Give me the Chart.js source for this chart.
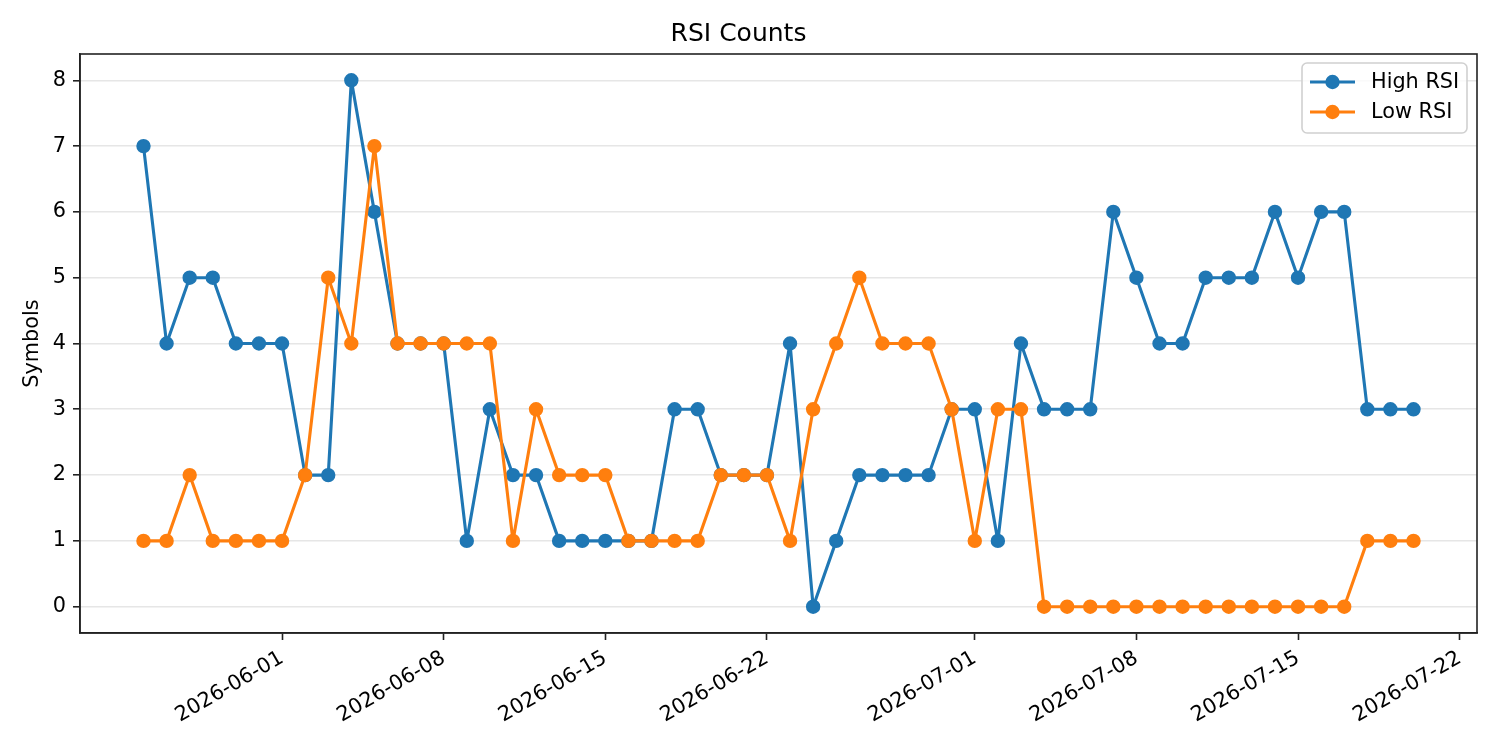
<!DOCTYPE html>
<html>
<head>
<meta charset="utf-8">
<script src="https://cdn.jsdelivr.net/npm/chart.js@4.4.1/dist/chart.umd.min.js"></script>
<style>
  html, body { margin: 0; padding: 0; background: #fff; }
  canvas { display: block; }
</style>
</head>
<body>
<canvas id="rsiChart" width="1500" height="750"></canvas>
<script>
// dates (one point per day)
const dates = [
    '2026-05-26', '2026-05-27', '2026-05-28', '2026-05-29', '2026-05-30', '2026-05-31',
    '2026-06-01', '2026-06-02', '2026-06-03', '2026-06-04', '2026-06-05', '2026-06-06',
    '2026-06-07', '2026-06-08', '2026-06-09', '2026-06-10', '2026-06-11', '2026-06-12',
    '2026-06-13', '2026-06-14', '2026-06-15', '2026-06-16', '2026-06-17', '2026-06-18',
    '2026-06-19', '2026-06-20', '2026-06-21', '2026-06-22', '2026-06-23', '2026-06-24',
    '2026-06-25', '2026-06-26', '2026-06-27', '2026-06-28', '2026-06-29', '2026-06-30',
    '2026-07-01', '2026-07-02', '2026-07-03', '2026-07-04', '2026-07-05', '2026-07-06',
    '2026-07-07', '2026-07-08', '2026-07-09', '2026-07-10', '2026-07-11', '2026-07-12',
    '2026-07-13', '2026-07-14', '2026-07-15', '2026-07-16', '2026-07-17', '2026-07-18',
    '2026-07-19', '2026-07-20'
];

const highRsi = [
    7, 4, 5, 5, 4, 4,
    4, 2, 2, 8, 6, 4,
    4, 4, 1, 3, 2, 2,
    1, 1, 1, 1, 1, 3,
    3, 2, 2, 2, 4, 0,
    1, 2, 2, 2, 2, 3,
    3, 1, 4, 3, 3, 3,
    6, 5, 4, 4, 5, 5,
    5, 6, 5, 6, 6, 3,
    3, 3
];

const lowRsi = [
    1, 1, 2, 1, 1, 1,
    1, 2, 5, 4, 7, 4,
    4, 4, 4, 4, 1, 3,
    2, 2, 2, 1, 1, 1,
    1, 2, 2, 2, 1, 3,
    4, 5, 4, 4, 4, 3,
    1, 3, 3, 0, 0, 0,
    0, 0, 0, 0, 0, 0,
    0, 0, 0, 0, 0, 1,
    1, 1
];

const xTickLabels = ['2026-06-01', '2026-06-08', '2026-06-15', '2026-06-22', '2026-07-01', '2026-07-08', '2026-07-15', '2026-07-22'];
const yTickValues = [0, 1, 2, 3, 4, 5, 6, 7, 8];

const BLUE = '#1f77b4';
const ORANGE = '#ff7f0e';
const FONT = "'DejaVu Sans', sans-serif";
const INK = '#222';

function dayNum(s) {
    return Date.parse(s + 'T00:00:00Z') / 86400000;
}

const xs = dates.map(dayNum);
const xSpan = xs[xs.length - 1] - xs[0];
const xMin = xs[0] - xSpan * 0.05;
const xMax = xs[xs.length - 1] + xSpan * 0.05;

// top/right spines
const framePlugin = {
    id: 'frame',
    afterDraw(chart) {
        const { ctx, chartArea: a } = chart;
        ctx.save();
        ctx.strokeStyle = INK;
        ctx.lineWidth = 1.6;
        ctx.strokeRect(a.left, a.top, a.right - a.left, a.bottom - a.top);
        ctx.restore();
    }
};

// matplotlib style legend box (line + marker)
const legendPlugin = {
    id: 'mplLegend',
    afterDraw(chart) {
        const ctx = chart.ctx;
        const x0 = 1302, y0 = 63, w = 165, h = 70, r = 5;
        ctx.save();
        ctx.beginPath();
        ctx.roundRect(x0, y0, w, h, r);
        ctx.fillStyle = 'rgba(255,255,255,0.8)';
        ctx.fill();
        ctx.strokeStyle = '#d0d0d0';
        ctx.lineWidth = 1.6;
        ctx.stroke();

        const rows = [
            { label: 'High RSI', color: BLUE, y: 82 },
            { label: 'Low RSI', color: ORANGE, y: 112 }
        ];
        rows.forEach(row => {
            ctx.strokeStyle = row.color;
            ctx.lineWidth = 3.1;
            ctx.beginPath();
            ctx.moveTo(1310, row.y);
            ctx.lineTo(1355, row.y);
            ctx.stroke();
            ctx.beginPath();
            ctx.arc(1332.5, row.y, 7.2, 0, Math.PI * 2);
            ctx.fillStyle = row.color;
            ctx.fill();
            ctx.fillStyle = '#000';
            ctx.font = '20.8px ' + FONT;
            ctx.textAlign = 'left';
            ctx.textBaseline = 'middle';
            ctx.fillText(row.label, 1371, row.y + 1);
        });
        ctx.restore();
    }
};

const ctx = document.getElementById('rsiChart').getContext('2d');
const rsiChart = new Chart(ctx, {
    type: 'line',
    data: {
        datasets: [
            {
                label: 'High RSI',
                data: dates.map((d, i) => ({ x: xs[i], y: highRsi[i] })),
                borderColor: BLUE,
                backgroundColor: BLUE,
                borderWidth: 3.1,
                borderJoinStyle: 'round',
                pointRadius: 6.2,
                pointBorderWidth: 2,
                pointBackgroundColor: BLUE,
                pointBorderColor: BLUE,
                tension: 0,
                order: 2
            },
            {
                label: 'Low RSI',
                data: dates.map((d, i) => ({ x: xs[i], y: lowRsi[i] })),
                borderColor: ORANGE,
                backgroundColor: ORANGE,
                borderWidth: 3.1,
                borderJoinStyle: 'round',
                pointRadius: 6.2,
                pointBorderWidth: 2,
                pointBackgroundColor: ORANGE,
                pointBorderColor: ORANGE,
                tension: 0,
                order: 1
            }
        ]
    },
    options: {
        responsive: false,
        animation: false,
        devicePixelRatio: 1,
        layout: { padding: { left: 0, right: 23, top: 0, bottom: 0 } },
        plugins: {
            legend: { display: false },
            tooltip: { enabled: false },
            title: {
                display: true,
                text: 'RSI Counts',
                color: '#000',
                font: { family: FONT, size: 25, weight: 'normal', lineHeight: 1.2 },
                padding: { top: 19, bottom: 5 }
            }
        },
        scales: {
            x: {
                type: 'linear',
                min: xMin,
                max: xMax,
                border: { display: true, color: INK, width: 1.6 },
                grid: {
                    drawOnChartArea: false,
                    drawTicks: true,
                    tickLength: 7,
                    tickColor: INK,
                    tickWidth: 1.6
                },
                afterBuildTicks: scale => {
                    scale.ticks = xTickLabels.map(d => ({ value: dayNum(d) }));
                },
                afterFit: scale => {
                    scale.height = 117;
                    scale.paddingLeft = 0;
                    scale.paddingRight = 0;
                },
                ticks: {
                    autoSkip: false,
                    minRotation: 30,
                    maxRotation: 30,
                    padding: 6,
                    color: '#000',
                    font: { family: FONT, size: 20.8 },
                    callback: (value, index) => xTickLabels[index]
                }
            },
            y: {
                min: -0.4,
                max: 8.4,
                border: { display: true, color: INK, width: 1.6 },
                grid: {
                    color: '#e6e6e6',
                    lineWidth: 1.6,
                    tickLength: 7,
                    tickColor: INK,
                    tickWidth: 1.6
                },
                afterBuildTicks: scale => {
                    scale.ticks = yTickValues.map(v => ({ value: v }));
                },
                afterFit: scale => {
                    scale.width = 80;
                    scale.paddingTop = 0;
                    scale.paddingBottom = 0;
                },
                title: {
                    display: true,
                    text: 'Symbols',
                    color: '#000',
                    font: { family: FONT, size: 20.8, lineHeight: 1.2 },
                    padding: { top: 20, bottom: 0 }
                },
                ticks: {
                    padding: 7,
                    color: '#000',
                    font: { family: FONT, size: 20.8 },
                    callback: value => String(value)
                }
            }
        }
    },
    plugins: [framePlugin, legendPlugin]
});
</script>
</body>
</html>
